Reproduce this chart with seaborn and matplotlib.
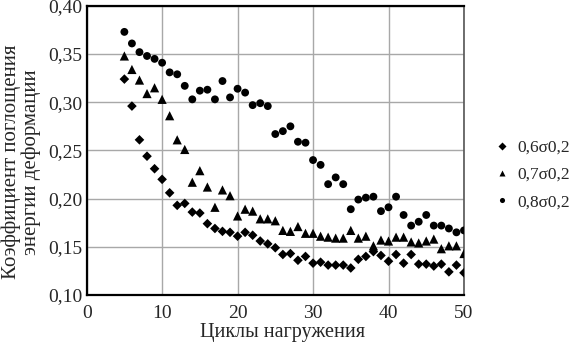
import matplotlib
matplotlib.use("Agg")
import matplotlib.pyplot as plt
import matplotlib.ticker as mticker
import numpy as np
import pandas as pd
import seaborn as sns

cycles = list(range(5, 51))

# 0,6 sigma0,2 (diamonds)
k06 = [0.324, 0.296, 0.261, 0.244, 0.231, 0.220, 0.206, 0.193, 0.195, 0.186,
       0.185, 0.174, 0.169, 0.166, 0.165, 0.161, 0.165, 0.162, 0.156, 0.153,
       0.149, 0.142, 0.143, 0.136, 0.140, 0.133, 0.134, 0.131, 0.131, 0.131,
       0.128, 0.137, 0.140, 0.145, 0.141, 0.135, 0.142, 0.133, 0.142, 0.132,
       0.132, 0.130, 0.132, 0.124, 0.131, 0.123]
# 0,7 sigma0,2 (triangles)
k07 = [0.348, 0.334, 0.323, 0.309, 0.315, 0.303, 0.286, 0.261, 0.251, 0.217,
       0.229, 0.212, 0.191, 0.209, 0.203, 0.182, 0.189, 0.187, 0.179, 0.179,
       0.177, 0.167, 0.166, 0.171, 0.164, 0.164, 0.161, 0.160, 0.159, 0.159,
       0.167, 0.159, 0.161, 0.151, 0.157, 0.156, 0.160, 0.160, 0.155, 0.154,
       0.156, 0.158, 0.148, 0.151, 0.151, 0.143]
# 0,8 sigma0,2 (circles)
k08 = [0.373, 0.361, 0.352, 0.348, 0.345, 0.341, 0.331, 0.329, 0.317, 0.303,
       0.312, 0.313, 0.303, 0.322, 0.305, 0.314, 0.310, 0.297, 0.299, 0.296,
       0.267, 0.270, 0.275, 0.259, 0.258, 0.240, 0.235, 0.215, 0.222, 0.215,
       0.189, 0.199, 0.201, 0.202, 0.187, 0.191, 0.202, 0.183, 0.172, 0.176,
       0.183, 0.172, 0.172, 0.169, 0.165, 0.167]

labels = ["0,6σ0,2", "0,7σ0,2", "0,8σ0,2"]

df = pd.DataFrame({
    "cycle": cycles * 3,
    "k": k06 + k07 + k08,
    "series": [labels[0]] * len(cycles) + [labels[1]] * len(cycles) + [labels[2]] * len(cycles),
})

sns.set_style("white")
plt.rcParams["font.family"] = ["Liberation Serif", "DejaVu Serif"]

fig = plt.figure(figsize=(5.7, 3.45), dpi=100)
ax = fig.add_axes([0.152, 0.145, 0.662, 0.838])

ax.grid(True, color="#a8a8a8", linewidth=1.0, zorder=0)
ax.set_axisbelow(True)

sns.scatterplot(data=df, x="cycle", y="k", hue="series", style="series",
                palette=["black"] * 3,
                markers={labels[0]: "D", labels[1]: "^", labels[2]: "o"},
                s=24, edgecolor="none", ax=ax, zorder=3, legend=True)

# triangles look smaller at equal area, so enlarge them a bit
n = len(cycles)
ax.collections[0].set_sizes(np.array([24] * n + [44] * n + [32] * n))

ax.set_xlim(0, 50)
ax.set_ylim(0.10, 0.40)
ax.xaxis.set_major_locator(mticker.MultipleLocator(10))
ax.yaxis.set_major_locator(mticker.MultipleLocator(0.05))
ax.yaxis.set_major_formatter(mticker.FuncFormatter(lambda v, p: f"{v:.2f}".replace(".", ",")))
ax.tick_params(length=0, labelsize=14, pad=3)
ax.tick_params(axis="x", pad=7)

for side in ["left", "bottom", "top"]:
    ax.spines[side].set_color("black")
    ax.spines[side].set_linewidth(1.6)
ax.spines["right"].set_color("#555555")
ax.spines["right"].set_linewidth(1.2)

ax.set_xlabel("Циклы нагружения", fontsize=14.5)
ax.xaxis.set_label_coords(0.52, -0.098, transform=ax.transAxes)
ax.set_ylabel("Коэффициент поглощения\nэнергии деформации", fontsize=15,
              linespacing=1.0)
ax.yaxis.set_label_coords(-0.122, 0.46, transform=ax.transAxes)

leg = ax.legend(loc="center left", bbox_to_anchor=(1.06, 0.415), frameon=False,
                fontsize=12.5, handlelength=1.0, handletextpad=0.4,
                labelspacing=0.65, markerscale=0.75, borderaxespad=0)

fig.savefig("out.png", dpi=100)
